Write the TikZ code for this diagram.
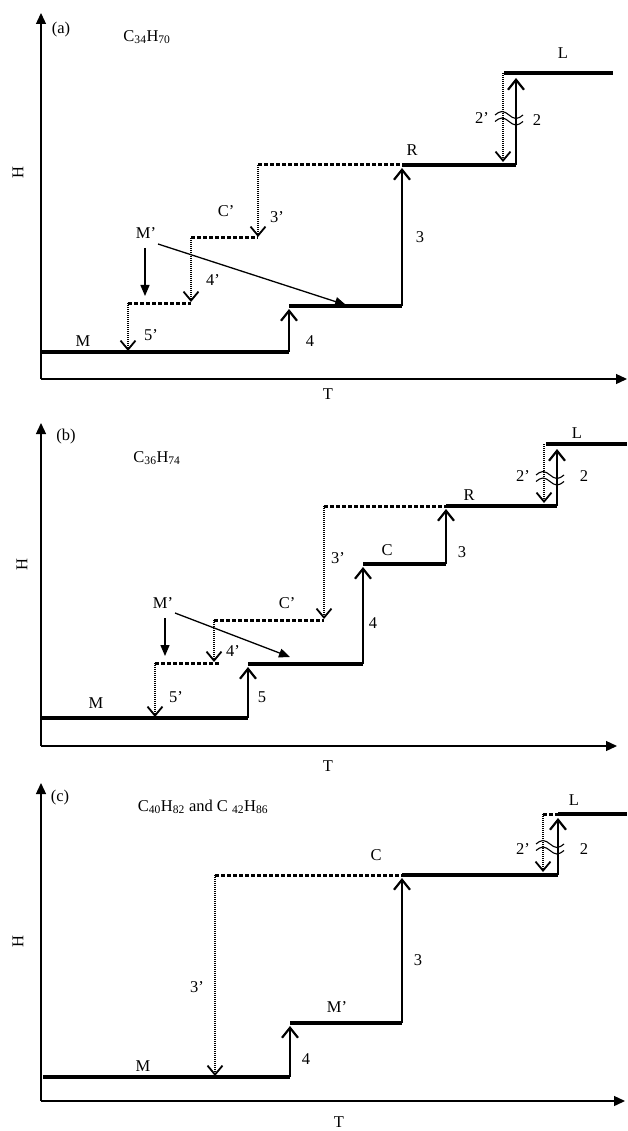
\documentclass[tikz,border=0pt]{standalone}
\usepackage{fontspec}
\setmainfont{Liberation Serif}
\usetikzlibrary{arrows.meta}
\begin{document}
\begin{tikzpicture}[x=1pt,y=-1pt,
  lab/.style={font=\fontsize{16.5}{18}\selectfont, inner sep=0pt},
  axis/.style={line width=1.3pt, -{Triangle[length=11pt,width=10pt]}},
  lvl/.style={line width=3.2pt},
  lvld/.style={line width=3pt, dash pattern=on 3.5pt off 2.5pt},
  uparr/.style={line width=2pt, -{Straight Barb[length=10pt,width=16pt,line width=2.2pt]}},
  dnarr/.style={line width=1.5pt, dash pattern=on 1pt off 1pt, -{Straight Barb[length=9pt,width=15pt,line width=1.8pt]}},
  marr/.style={line width=1.3pt, -{Triangle[length=11pt,width=9pt]}},
  brk/.pic={\draw[line width=1.1pt] (-14,-3) sin (-7,-6.5) cos (0,-3) sin (7,0.5) cos (14,-3);
            \draw[line width=1.1pt] (-14,3.5) sin (-7,0) cos (0,3.5) sin (7,7) cos (14,3.5);}
]
\useasboundingbox (0,0) rectangle (627,1131);
% ================= panel (a) =================
\coordinate (aO) at (41,379);
\coordinate (aY) at (41,13);
\coordinate (aX) at (627,379);
\draw[axis] (aO) -- (aY);
\draw[axis] (aO) -- (aX);
\node[lab] (alab) at (61,30) {(a)};
\node[lab] (aform) at (147,37) {C\textsubscript{34}H\textsubscript{70}};
\node[lab, rotate=90] (aH) at (18,173) {H};
\node[lab] (aT) at (328,394) {T};
% solid path
\coordinate (aM1) at (41,352);  \coordinate (aM2) at (289,352);
\coordinate (aS1) at (289,306); \coordinate (aS2) at (402,306);
\coordinate (aR1) at (402,165); \coordinate (aR2) at (516,165);
\coordinate (aL1) at (504,73);  \coordinate (aL2) at (613,73);
\draw[lvl] (aM1) -- (aM2);
\draw[uparr] (aM2) -- ([yshift=-3pt]aS1);
\draw[lvl] (aS1) -- (aS2);
\draw[uparr] (aS2) -- ([yshift=-3pt]aR1);
\draw[lvl] (aR1) -- (aR2);
\draw[uparr] (aR2) -- ([yshift=-5pt]516,73);
\draw[lvl] (aL1) -- (aL2);
% dotted path
\coordinate (aD1) at (258,165); \coordinate (aD2) at (258,238);
\coordinate (aD3) at (191,238); \coordinate (aD4) at (191,303);
\coordinate (aD5) at (128,303); \coordinate (aD6) at (128,352);
\draw[lvld] (aD1) -- (aR1);
\draw[dnarr] (aD1) -- ([yshift=1pt]aD2);
\draw[lvld] (aD3) -- (aD2);
\draw[dnarr] (aD3) -- ([yshift=1pt]aD4);
\draw[lvld] (aD5) -- (aD4);
\draw[dnarr] (aD5) -- ([yshift=1pt]aD6);
\coordinate (aP1) at (503,73); \coordinate (aP2) at (503,165);
\draw[dnarr] (aP1) -- ([yshift=3pt]aP2);
\pic at (509,118) {brk};
% labels
\node[lab] (aR) at (412,150) {R};
\node[lab] (aL) at (563,53) {L};
\node[lab] (a2p) at (482,118) {2’};
\node[lab] (a2) at (537,120) {2};
\node[lab] (a3) at (420,237) {3};
\node[lab] (a4) at (310,341) {4};
\node[lab] (a3p) at (277,217) {3’};
\node[lab] (aCp) at (226,211) {C’};
\node[lab] (a4p) at (213,280) {4’};
\node[lab] (a5p) at (151,335) {5’};
\node[lab] (aMp) at (146,233) {M’};
\node[lab] (aM) at (83,341) {M};
\coordinate (aA1) at (145,296);
\coordinate (aA2) at (346,305);
\draw[marr] (145,248) -- (aA1);
\draw[marr] (158,244) -- (aA2);
% ================= panel (b) =================
\coordinate (bO) at (41,746);
\coordinate (bY) at (41,423);
\coordinate (bX) at (617,746);
\draw[axis] (bO) -- (bY);
\draw[axis] (bO) -- (bX);
\node[lab] (blab) at (66,437) {(b)};
\node[lab] (bform) at (157,458) {C\textsubscript{36}H\textsubscript{74}};
\node[lab, rotate=90] (bH) at (22,565) {H};
\node[lab] (bT) at (328,766) {T};
\coordinate (bM1) at (41,718);  \coordinate (bM2) at (248,718);
\coordinate (bS1) at (248,664); \coordinate (bS2) at (363,664);
\coordinate (bC1) at (363,564); \coordinate (bC2) at (446,564);
\coordinate (bR1) at (446,506); \coordinate (bR2) at (557,506);
\coordinate (bL1) at (546,444); \coordinate (bL2) at (627,444);
\draw[lvl] (bM1) -- (bM2);
\draw[uparr] (bM2) -- ([yshift=-3pt]bS1);
\draw[lvl] (bS1) -- (bS2);
\draw[uparr] (bS2) -- ([yshift=-3pt]bC1);
\draw[lvl] (bC1) -- (bC2);
\draw[uparr] (bC2) -- ([yshift=-3pt]bR1);
\draw[lvl] (bR1) -- (bR2);
\draw[uparr] (bR2) -- ([yshift=-5pt]557,444);
\draw[lvl] (bL1) -- (bL2);
\coordinate (bD1) at (324,506); \coordinate (bD2) at (324,620);
\coordinate (bD3) at (214,620); \coordinate (bD4) at (214,663);
\coordinate (bD5) at (155,663); \coordinate (bD6) at (155,718);
\coordinate (bD7) at (220,663);
\draw[lvld] (bD1) -- (bR1);
\draw[dnarr] (bD1) -- ([yshift=1pt]bD2);
\draw[lvld] (bD3) -- (bD2);
\draw[dnarr] (bD3) -- ([yshift=1pt]bD4);
\draw[lvld] (bD5) -- (bD7);
\draw[dnarr] (bD5) -- ([yshift=1pt]bD6);
\coordinate (bP1) at (544,444); \coordinate (bP2) at (544,506);
\draw[dnarr] (bP1) -- ([yshift=3pt]bP2);
\pic at (550,478) {brk};
\node[lab] (bL) at (577,433) {L};
\node[lab] (bR) at (469,495) {R};
\node[lab] (b2p) at (523,476) {2’};
\node[lab] (b2) at (584,476) {2};
\node[lab] (bC) at (387,550) {C};
\node[lab] (b3) at (462,552) {3};
\node[lab] (b3p) at (338,558) {3’};
\node[lab] (b4) at (373,623) {4};
\node[lab] (bCp) at (287,603) {C’};
\node[lab] (b4p) at (233,651) {4’};
\node[lab] (b5p) at (176,697) {5’};
\node[lab] (b5) at (262,697) {5};
\node[lab] (bMp) at (163,603) {M’};
\node[lab] (bM) at (96,703) {M};
\coordinate (bA1) at (165,656);
\coordinate (bA2) at (290,657);
\draw[marr] (165,618) -- (bA1);
\draw[marr] (175,613) -- (bA2);
% ================= panel (c) =================
\coordinate (cO) at (41,1101);
\coordinate (cY) at (41,783);
\coordinate (cX) at (625,1101);
\draw[axis] (cO) -- (cY);
\draw[axis] (cO) -- (cX);
\node[lab] (clab) at (60,798) {(c)};
\node[lab] (cform) at (203,807) {C\textsubscript{40}H\textsubscript{82} and C~\textsubscript{42}H\textsubscript{86}};
\node[lab, rotate=90] (cH) at (18,942) {H};
\node[lab] (cT) at (339,1122) {T};
\coordinate (cM1) at (43,1077);  \coordinate (cM2) at (290,1077);
\coordinate (cS1) at (290,1023); \coordinate (cS2) at (402,1023);
\coordinate (cC1) at (402,875);  \coordinate (cC2) at (558,875);
\coordinate (cL1) at (558,814);  \coordinate (cL2) at (627,814);
\draw[lvl] (cM1) -- (cM2);
\draw[uparr] (cM2) -- ([yshift=-3pt]cS1);
\draw[lvl] (cS1) -- (cS2);
\draw[uparr] (cS2) -- ([yshift=-3pt]cC1);
\draw[lvl] (cC1) -- (cC2);
\draw[uparr] (cC2) -- ([yshift=-4pt]cL1);
\draw[lvl] (cL1) -- (cL2);
\coordinate (cD1) at (215,875); \coordinate (cD2) at (215,1077);
\coordinate (cP1) at (543,814); \coordinate (cP2) at (543,875);
\draw[lvld] (cD1) -- (cC1);
\draw[dnarr] (cD1) -- ([yshift=1pt]cD2);
\draw[lvld] (cP1) -- (cL1);
\draw[dnarr] (cP1) -- ([yshift=3pt]cP2);
\pic at (550,847) {brk};
\node[lab] (cL) at (574,800) {L};
\node[lab] (cC) at (376,855) {C};
\node[lab] (c2p) at (523,849) {2’};
\node[lab] (c2) at (584,849) {2};
\node[lab] (c3) at (418,960) {3};
\node[lab] (cMp) at (337,1007) {M’};
\node[lab] (c4) at (306,1059) {4};
\node[lab] (c3p) at (197,987) {3’};
\node[lab] (cM) at (143,1066) {M};
\end{tikzpicture}
\end{document}
